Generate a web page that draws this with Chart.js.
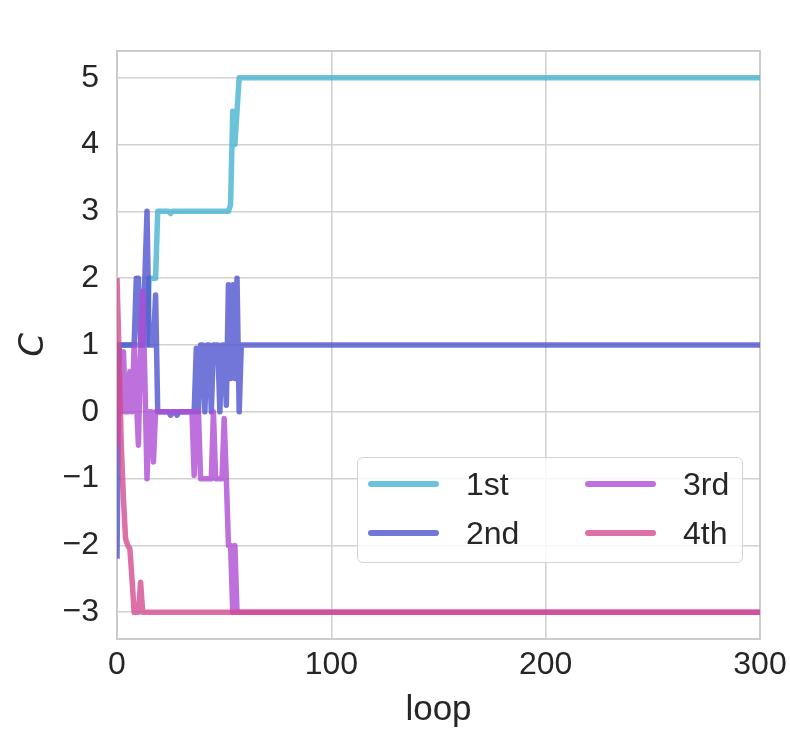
<!DOCTYPE html>
<html>
<head>
<meta charset="utf-8">
<script src="https://cdn.jsdelivr.net/npm/chart.js@4/dist/chart.umd.min.js"></script>
<style>
  html, body { margin: 0; padding: 0; background: #ffffff; }
  #wrap { position: relative; width: 790px; height: 731px; }
  #legend {
    position: absolute; left: 357px; top: 457px; width: 386px; height: 106px;
    box-sizing: border-box; background: rgba(255,255,255,0.8);
    border: 1.5px solid #d4d4d4; border-radius: 6px;
    font-family: "Liberation Sans", Arial, sans-serif; font-size: 32px; color: #262626;
  }
  .item { position: absolute; height: 40px; display: flex; align-items: center; }
  .swatch { width: 71px; height: 6px; border-radius: 3px; margin-right: 27px; }
</style>
</head>
<body>
<div id="wrap">
  <canvas id="chart" width="790" height="731"></canvas>
  <div id="legend"></div>
</div>
<script>
// Axis ticks
const xTicks = [0, 100, 200, 300];
const yTicks = [-3, -2, -1, 0, 1, 2, 3, 4, 5];

// Series names and colours
const seriesNames = ['1st', '2nd', '3rd', '4th'];
const seriesColors = ['rgba(71,180,208,0.8)', 'rgba(79,84,206,0.8)', 'rgba(174,76,211,0.8)', 'rgba(212,76,144,0.8)'];

// 1st: loop indices where the value changes, and the values there
const loops1 = [0, 1, 14, 15, 18, 19, 24, 25, 26, 52, 53, 54, 55, 56, 57, 300];
const c1     = [0.5, 1, 1, 2, 2, 3, 3, 2.97, 3, 3, 3.1, 4.5, 4.0, 4.5, 5, 5];

// 2nd
const loops2 = [0, 1, 8, 9, 10, 11, 12, 13, 14, 15, 17, 18, 19, 24, 25, 26, 27, 28, 29, 36, 37, 38, 39, 40, 41, 42, 43, 44, 45, 46, 47, 48, 49, 50, 51, 52, 53, 54, 55, 56, 57, 58, 300];
const c2     = [-2.2, 1, 1, 2, 2, 1, 1, 2, 3, 1, 1, 1.75, 0, 0, -0.05, 0, 0, -0.05, 0, 0, 0.95, 0, 1, 1, 0, 1, 1, 0, 1, 1, 1, 0, 1, 1, 0.1, 1.9, 0.5, 1.9, 0.5, 2.0, 0, 1, 1];

// 3rd
const loops3 = [0, 1, 2, 3, 4, 5, 6, 7, 8, 9, 10, 11, 12, 13, 14, 15, 16, 17, 18, 35, 36, 37, 38, 39, 44, 45, 46, 49, 50, 51, 52, 53, 54, 55, 56, 300];
const c3     = [-0.5, 0.4, 0, 0.9, 0, 0, 0.6, 0, 1, 0.2, -0.5, 1, 1.8, 0.5, -1, 0, 0, -0.75, 0, 0, -0.95, 0, 0, -1, -1, 0, -1, -1, -0.1, -1, -2, -2, -3, -2, -3, -3];

// 4th
const loops4 = [0, 1, 2, 3, 4, 5, 6, 7, 8, 9, 10, 11, 12, 300];
const c4     = [2, 0.8, -0.5, -1.3, -1.9, -2, -2.05, -2.5, -3, -3, -3, -2.55, -3, -3];

const FONT = '"Liberation Sans", Arial, sans-serif';
const TEXT = '#262626';
const GRID = '#d2d2d2';

function toPoints(xs, ys) { return xs.map((x, i) => ({ x: x, y: ys[i] })); }
function fmt(v) { return v < 0 ? '\u2212' + Math.abs(v) : String(v); }

const seriesData = [toPoints(loops1, c1), toPoints(loops2, c2), toPoints(loops3, c3), toPoints(loops4, c4)];

// light frame around the plotting area
const framePlugin = {
  id: 'frame',
  beforeDatasetsDraw(chart) {
    const a = chart.chartArea, ctx = chart.ctx;
    ctx.save();
    ctx.strokeStyle = '#cccccc';
    ctx.lineWidth = 2;
    ctx.strokeRect(a.left, a.top, a.right - a.left, a.bottom - a.top);
    ctx.restore();
  }
};

new Chart(document.getElementById('chart'), {
  type: 'line',
  data: {
    datasets: seriesNames.map((name, i) => ({
      label: name,
      data: seriesData[i],
      borderColor: seriesColors[i],
      backgroundColor: seriesColors[i],
      borderWidth: 5.5,
      pointRadius: 0,
      tension: 0,
      fill: false,
      borderJoinStyle: 'round',
      order: seriesNames.length - i
    }))
  },
  options: {
    responsive: false,
    animation: false,
    devicePixelRatio: 1,
    layout: { padding: { top: 51, right: 30, left: 0, bottom: 0 } },
    plugins: { legend: { display: false }, tooltip: { enabled: false } },
    scales: {
      x: {
        type: 'linear', min: 0, max: 300,
        afterBuildTicks: s => { s.ticks = xTicks.map(v => ({ value: v })); },
        afterFit: s => { s.height = 92; s.paddingLeft = 0; s.paddingRight = 0; },
        grid: { color: GRID, lineWidth: 1.6, drawTicks: false },
        border: { display: false },
        ticks: { padding: 7, color: TEXT, font: { family: FONT, size: 32 }, maxRotation: 0, autoSkip: false, callback: v => fmt(v) },
        title: { display: true, text: 'loop', color: TEXT, font: { family: FONT, size: 35 }, padding: { top: 0, bottom: 0 } }
      },
      y: {
        type: 'linear', min: -3.4, max: 5.4,
        afterBuildTicks: s => { s.ticks = yTicks.map(v => ({ value: v })); },
        afterFit: s => { s.width = 117; s.paddingTop = 0; s.paddingBottom = 0; },
        grid: { color: GRID, lineWidth: 1.6, drawTicks: false },
        border: { display: false },
        ticks: { padding: 18, color: TEXT, font: { family: FONT, size: 32 }, autoSkip: false, callback: v => fmt(v) },
        title: { display: true, text: 'C', color: TEXT, font: { family: '"DejaVu Sans", sans-serif', size: 34, style: 'italic' }, padding: { top: 14, bottom: 0 } }
      }
    }
  },
  plugins: [framePlugin]
});

// legend drawn in two columns inside the plot
const legend = document.getElementById('legend');
const slots = [[10, 6], [10, 55], [227, 6], [227, 55]];
seriesNames.forEach((name, i) => {
  const it = document.createElement('div');
  it.className = 'item';
  it.style.left = slots[i][0] + 'px';
  it.style.top = slots[i][1] + 'px';
  const sw = document.createElement('div');
  sw.className = 'swatch';
  sw.style.background = seriesColors[i];
  const tx = document.createElement('span');
  tx.textContent = name;
  it.appendChild(sw);
  it.appendChild(tx);
  legend.appendChild(it);
});
</script>
</body>
</html>
